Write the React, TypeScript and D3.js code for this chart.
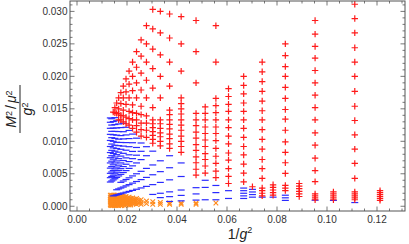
import { useEffect, useRef } from "react";
import * as d3 from "d3";

// columns: [g^2, values of M^2/mu^2/g^2 in units of 1e-3]
const redCols: [number, number[]][] = [
  [8.25, [2.4, 2.1, 1.8, 1.5, 1.2, 0.9]],
  [9, [31.1, 28.9, 26.7, 24.4, 22.2, 20.0, 17.7, 15.4, 13.2, 11.0, 8.8, 6.6, 4.3, 2.2, 1.9, 1.6, 1.3, 1.0]],
  [9.75, [2.2, 1.9, 1.6, 1.3, 1.0]],
  [10.5, [28.6, 26.5, 24.6, 22.8, 20.9, 19.0, 17.1, 15.2, 13.3, 11.3, 9.4, 7.4, 5.5, 3.8, 1.9, 1.6, 1.3, 1.0]],
  [11.25, [3.5, 3.1, 2.7, 2.3, 1.9, 1.5]],
  [12, [25.0, 23.2, 21.5, 20.0, 18.3, 16.6, 14.9, 13.4, 11.7, 9.9, 8.3, 6.7, 5.05, 3.2, 2.8, 2.4]],
  [12.75, [3.3, 2.9, 2.5, 2.1, 1.7]],
  [13.5, [22.2, 20.7, 19.2, 17.7, 16.2, 14.7, 13.3, 11.8, 10.3, 8.8, 7.2, 5.8, 4.3, 2.8, 2.4, 2.0, 1.6]],
  [14.25, [3.0]],
  [15, [20.0, 18.6, 17.3, 15.9, 14.6, 13.3, 12.0, 10.6, 9.2, 7.9, 6.5, 5.1, 3.75]],
  [16.5, [18.1, 16.9, 15.7, 14.6, 13.3, 12.1, 10.8, 9.6, 8.2, 7.1, 5.8, 4.6, 3.5]],
  [18, [27.8, 22.2, 16.6, 15.5, 14.4, 13.3, 12.2, 11.2, 10.1, 8.9, 7.7, 6.6, 5.4, 4.4]],
  [19.5, [15.3, 14.3, 13.3, 12.2, 11.2, 10.2, 9.2, 8.1, 7.2, 6.2, 5.1]],
  [21, [28.6, 23.8, 19.0, 14.3, 13.3, 12.4, 11.4, 10.5, 9.5, 8.6, 7.6, 6.7, 5.7, 4.8]],
  [24, [29.2, 25.0, 20.8, 16.7, 15.8, 15.0, 14.2, 13.3, 12.5, 11.7, 10.8, 10.0, 9.2, 8.3]],
  [27, [29.6, 25.9, 22.2, 18.5, 14.8, 14.1, 13.3, 12.6, 11.9, 11.1, 10.4, 9.6, 8.9]],
  [30, [30.0, 26.7, 23.3, 20.0, 16.7, 13.3, 12.7, 12.0, 11.3, 10.7, 10.0, 9.3]],
  [33, [30.3, 27.3, 24.2, 21.2, 18.2, 15.2, 13.3, 12.7, 12.1, 11.5, 10.9, 10.3, 9.7]],
  [36, [27.8, 25.0, 22.2, 19.4, 16.7, 13.9, 12.8, 11.7, 10.6]],
  [39, [25.6, 23.1, 20.5, 17.9, 15.4, 14.1, 12.8, 11.8, 10.8]],
  [42, [23.8, 21.4, 19.0, 16.7, 14.3, 13.3, 12.4, 11.4]],
  [45, [22.2, 20.0, 17.8, 15.6, 14.4, 13.3, 12.0]],
  [48, [20.8, 18.8, 16.7, 14.6, 13.5, 12.5]],
  [51, [19.6, 17.6, 15.7, 13.7, 12.7]],
  [54, [18.5, 16.7, 14.8, 13.9, 13.0]],
  [57, [17.5, 15.8, 14.0, 13.3]],
  [60, [16.7, 15.0, 14.2, 13.3]],
  [63, [15.9, 14.3]],
  [66, [15.2, 14.4]],
  [69, [14.5]],
];

const blueCols: [number, number[]][] = [
  [9, [0.57]],
  [9.75, [0.9]],
  [10.5, [0.93]],
  [12, [1.7, 1.3, 0.9]],
  [12.75, [1.4]],
  [13.5, [1.4]],
  [14.25, [2.6, 2.2, 1.8, 1.4]],
  [15, [2.8, 2.4, 2.0, 1.6, 1.2]],
  [16.5, [2.4, 1.2]],
  [18, [3.2, 2.1, 1.0]],
  [19.5, [4.0, 2.9, 1.0]],
  [21, [2.86, 1.9, 0.95]],
  [24, [6.67, 4.58, 2.5, 1.67, 0.83]],
  [27, [7.78, 5.93, 4.07, 2.22, 1.48, 0.74]],
  [30, [7.0, 5.33, 3.67, 2.0, 1.33]],
  [33, [8.48, 6.36, 4.85, 3.33, 1.82]],
  [36, [9.17, 7.78, 5.83, 4.44, 3.06]],
  [39, [9.74, 8.46, 7.18, 5.38, 4.1, 2.82]],
  [42, [10.48, 9.05, 7.86, 6.67, 5.0, 3.81, 2.62]],
  [45, [11.11, 9.78, 8.44, 7.33, 6.22, 4.67, 3.56, 2.44]],
  [48, [11.67, 10.42, 9.17, 7.92, 6.88, 5.83, 4.38, 3.33, 2.29]],
  [51, [12.16, 10.98, 9.8, 8.63, 7.45, 6.47, 5.49, 4.12, 3.14, 2.16]],
  [54, [12.78, 11.48, 10.37, 9.26, 8.15, 7.04, 6.11, 5.19, 3.89, 2.96, 2.04]],
  [57, [12.11, 10.88, 9.82, 8.77, 7.72, 6.67, 5.79, 4.91, 3.68, 2.81, 1.93]],
  [60, [12.67, 11.5, 10.33, 9.33, 8.33, 7.33, 6.33, 5.5, 4.67, 2.67, 1.83]],
  [63, [13.17, 12.06, 10.95, 9.84, 8.89, 7.94, 6.98, 6.03, 5.24, 4.44, 2.54, 1.75]],
  [66, [13.64, 12.58, 11.52, 10.45, 9.39, 8.48, 7.58, 6.67, 5.76, 5.0, 4.24, 1.67]],
  [69, [13.04, 12.03, 11.01, 10.0, 8.99, 8.12, 7.25, 6.38, 5.51, 4.78, 4.06, 1.59]],
  [72, [13.47, 12.5, 11.53, 10.56, 9.58, 8.61, 7.78, 6.94, 6.11, 5.28, 4.58, 3.89]],
  [75, [13.6, 12.93, 12.0, 11.07, 10.13, 9.2, 8.27, 7.47, 6.67, 5.87, 5.07, 4.4, 3.73]],
];

const orangeCols: [number, number[]][] = [
  [18, [0.5]],
  [21, [0.5, 0.3]],
  [24, [0.5, 0.3]],
  [27, [0.5, 0.3]],
  [30, [0.6, 0.3]],
  [33, [0.7, 0.3]],
  [36, [0.8, 0.4]],
  [39, [1.0, 0.6, 0.3]],
  [40.5, [0.9, 0.5]],
  [42, [1.2, 0.9, 0.6, 0.3]],
  [43.5, [1.1, 0.7, 0.4]],
  [45, [1.3, 1.0, 0.7, 0.4]],
  [46.5, [1.2, 0.8, 0.5, 0.2]],
  [48, [1.4, 1.1, 0.8, 0.5, 0.2]],
  [49.5, [1.3, 1.0, 0.7, 0.4]],
  [51, [1.5, 1.2, 0.9, 0.6, 0.3]],
  [52.5, [1.4, 1.0, 0.7, 0.4, 0.1]],
  [54, [1.5, 1.2, 0.9, 0.6, 0.3]],
  [55.5, [1.6, 1.3, 1.0, 0.7, 0.4, 0.1]],
  [57, [1.6, 1.3, 1.0, 0.7, 0.4, 0.1]],
  [58.5, [1.5, 1.2, 0.9, 0.6, 0.3]],
  [60, [1.6, 1.3, 1.0, 0.7, 0.4, 0.1]],
  [61.5, [1.7, 1.4, 1.1, 0.8, 0.5, 0.2]],
  [63, [1.7, 1.4, 1.1, 0.8, 0.5, 0.2]],
  [64.5, [1.6, 1.3, 1.0, 0.7, 0.4, 0.1]],
  [66, [1.7, 1.4, 1.1, 0.8, 0.5, 0.2]],
  [67.5, [1.6, 1.3, 1.0, 0.7, 0.4, 0.1]],
  [69, [1.7, 1.4, 1.1, 0.8, 0.5, 0.2]],
  [70.5, [1.6, 1.3, 1.0, 0.7, 0.4, 0.1]],
  [72, [1.7, 1.4, 1.1, 0.8, 0.5, 0.2]],
  [73.5, [1.6, 1.3, 1.0, 0.7, 0.4, 0.1]],
  [75, [1.7, 1.4, 1.1, 0.8, 0.5, 0.2]],
];

const xTicks = [0, 0.02, 0.04, 0.06, 0.08, 0.1, 0.12];
const yTicks = [0, 0.005, 0.01, 0.015, 0.02, 0.025, 0.03];

const flatten = (cols: [number, number[]][]) =>
  cols.flatMap(([g2, vals]) => vals.map((v) => ({ x: 1 / g2, y: v / 1000 })));

export default function App() {
  const svgRef = useRef<SVGSVGElement>(null);

  useEffect(() => {
    const svg = d3.select(svgRef.current);
    svg.selectAll("*").remove();

    const left = 70, right = 405, top = 1, bottom = 211;
    const x = d3.scaleLinear().domain([-0.0028, 0.1312]).range([left, right]);
    const y = d3.scaleLinear().domain([-0.00073, 0.0316]).range([bottom, top]);

    const frameColor = "#555";
    const font = "'Liberation Sans', Arial, sans-serif";

    // points
    const plot = svg.append("g");
    plot
      .selectAll("path.o")
      .data(flatten(orangeCols))
      .join("path")
      .attr("d", (d) => {
        const cx = x(d.x), cy = y(d.y), r = 2.3;
        return `M${cx - r},${cy - r}L${cx + r},${cy + r}M${cx - r},${cy + r}L${cx + r},${cy - r}`;
      })
      .attr("stroke", "#ff8a1c")
      .attr("stroke-width", 1.1)
      .attr("fill", "none");

    plot
      .selectAll("path.b")
      .data(flatten(blueCols))
      .join("path")
      .attr("d", (d) => {
        const cx = x(d.x), cy = y(d.y);
        return `M${cx - 3.5},${cy}L${cx + 3.5},${cy}`;
      })
      .attr("stroke", "#2a2aff")
      .attr("stroke-width", 1.2)
      .attr("fill", "none");

    plot
      .selectAll("path.r")
      .data(flatten(redCols))
      .join("path")
      .attr("d", (d) => {
        const cx = x(d.x), cy = y(d.y), r = 3.2;
        return `M${cx - r},${cy}L${cx + r},${cy}M${cx},${cy - r}L${cx},${cy + r}`;
      })
      .attr("stroke", "#ff1a1a")
      .attr("stroke-width", 1.2)
      .attr("fill", "none");

    // frame
    svg
      .append("rect")
      .attr("x", left)
      .attr("y", top)
      .attr("width", right - left)
      .attr("height", bottom - top)
      .attr("fill", "none")
      .attr("stroke", frameColor)
      .attr("stroke-width", 1);

    // ticks, mirrored on all four sides
    const xMinor = d3.range(0, 0.1301, 0.005);
    const yMinor = d3.range(0, 0.0316, 0.001);
    const tg = svg.append("g").attr("stroke", frameColor).attr("stroke-width", 0.8);
    xMinor.forEach((t, i) => {
      const len = i % 4 === 0 ? 4.5 : 2.5;
      const px = x(t);
      tg.append("line").attr("x1", px).attr("x2", px).attr("y1", bottom).attr("y2", bottom - len);
      tg.append("line").attr("x1", px).attr("x2", px).attr("y1", top).attr("y2", top + len);
    });
    yMinor.forEach((t, i) => {
      const len = i % 5 === 0 ? 4.5 : 2.5;
      const py = y(t);
      tg.append("line").attr("x1", left).attr("x2", left + len).attr("y1", py).attr("y2", py);
      tg.append("line").attr("x1", right).attr("x2", right - len).attr("y1", py).attr("y2", py);
    });

    svg
      .append("g")
      .selectAll("text")
      .data(xTicks)
      .join("text")
      .attr("x", (d) => x(d))
      .attr("y", bottom + 11.5)
      .attr("text-anchor", "middle")
      .attr("font-family", font)
      .attr("font-size", 10)
      .attr("fill", "#333")
      .text((d) => d3.format(".2f")(d));

    svg
      .append("g")
      .selectAll("text")
      .data(yTicks)
      .join("text")
      .attr("x", left - 2.5)
      .attr("y", (d) => y(d) + 3.5)
      .attr("text-anchor", "end")
      .attr("font-family", font)
      .attr("font-size", 10)
      .attr("fill", "#333")
      .text((d) => d3.format(".3f")(d));

    // x label
    const xl = svg
      .append("text")
      .attr("x", 240)
      .attr("y", 239)
      .attr("text-anchor", "middle")
      .attr("font-family", font)
      .attr("font-size", 14)
      .attr("fill", "#222");
    xl.append("tspan").text("1/");
    xl.append("tspan").attr("font-style", "italic").text("g");
    xl.append("tspan").attr("font-size", 9).attr("dy", -6).text("2");

    // y label, rotated fraction
    const yl = svg.append("g").attr("transform", "translate(20,109) rotate(-90)");
    const num = yl
      .append("text")
      .attr("x", 0)
      .attr("y", -4)
      .attr("text-anchor", "middle")
      .attr("font-family", font)
      .attr("font-size", 14)
      .attr("fill", "#222");
    num.append("tspan").attr("font-style", "italic").text("M");
    num.append("tspan").attr("font-size", 9).attr("dy", -4.5).text("2");
    num.append("tspan").attr("dy", 4.5).attr("dx", 2).text("/");
    num.append("tspan").attr("font-style", "italic").attr("dx", 2).text("μ");
    num.append("tspan").attr("font-size", 9).attr("dy", -4.5).text("2");
    yl.append("line").attr("x1", -24).attr("x2", 24).attr("y1", 0).attr("y2", 0).attr("stroke", "#222").attr("stroke-width", 1);
    const den = yl
      .append("text")
      .attr("x", 0)
      .attr("y", 12)
      .attr("text-anchor", "middle")
      .attr("font-family", font)
      .attr("font-size", 14)
      .attr("fill", "#222");
    den.append("tspan").attr("font-style", "italic").text("g");
    den.append("tspan").attr("font-size", 9).attr("dy", -4.5).text("2");
  }, []);

  return (
    <div style={{ position: "absolute", left: 0, top: 0 }}>
      <svg ref={svgRef} width={409} height={244} style={{ display: "block", background: "#fff" }} />
    </div>
  );
}
